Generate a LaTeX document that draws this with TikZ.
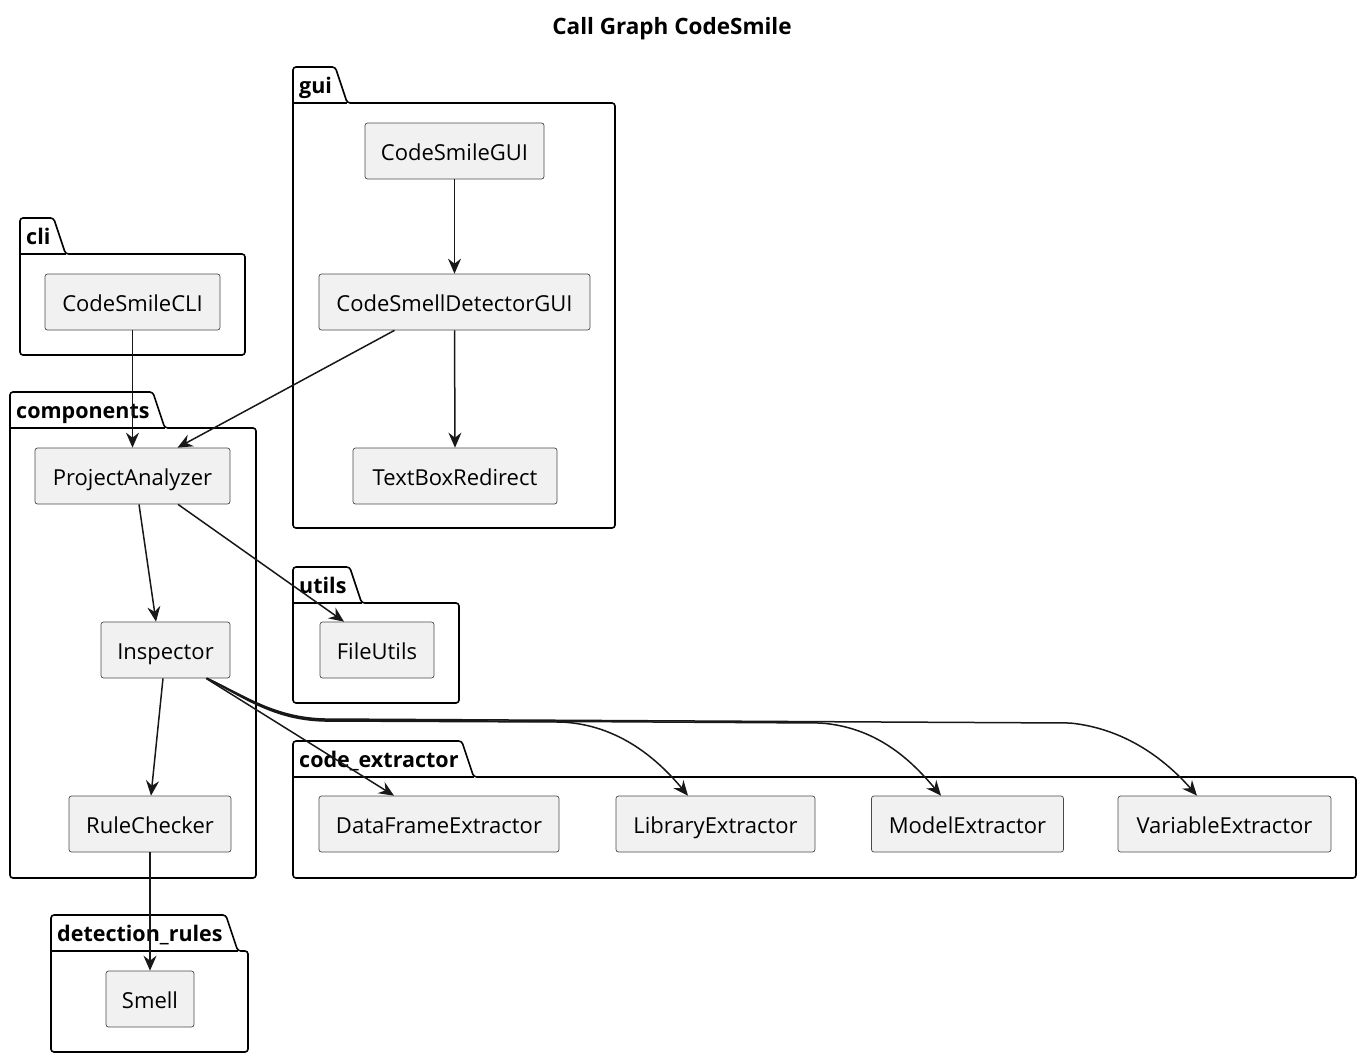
\documentclass[tikz,border=0pt]{standalone}
\usepackage{fontspec}
\setmainfont{Open Sans}
\usetikzlibrary{arrows.meta,calc}
\definecolor{boxfill}{HTML}{F1F1F1}
\definecolor{boxline}{HTML}{4A4A4A}
\definecolor{edgec}{HTML}{181818}
\newcommand\umlpkg[6]{%
  \coordinate (#6tl) at (#1,#2);
  \coordinate (#6bl) at (#1,#2+36);
  \node[pkglab] (#6lab) at (#1+6,#2+26) {#5};
  \draw[pkgline] (#1,#4) -- (#6tl) -- ([xshift=3pt]#6lab.east |- #6tl) -- ([xshift=15pt]#6lab.east |- #6bl) -- (#3,#2+36) -- (#3,#4) -- cycle;
  \draw[line width=1.6pt] (#6bl) -- ([xshift=15pt]#6lab.east |- #6bl);
}
\begin{document}
\begin{tikzpicture}[x=1pt,y=-1pt,
  cls/.style={draw=boxline, fill=boxfill, rounded corners=2.5pt, minimum height=56pt, inner sep=0pt, text height=19pt, text depth=1pt, font=\fontsize{22}{26}\selectfont, line width=0.7pt},
  pkgline/.style={line width=1.6pt, rounded corners=3pt, draw=black},
  pkglab/.style={font=\bfseries\fontsize{21.5}{26}\selectfont, inner sep=0pt, anchor=base west},
  dep/.style={draw=edgec, line width=1.5pt, -{Stealth[length=15pt,width=13pt,inset=5pt]}},
  titlestyle/.style={font=\bfseries\fontsize{22.5}{26}\selectfont, inner sep=0pt},
]
\useasboundingbox (0,0) rectangle (1365,1061);
\node[titlestyle] (title) at (672,29) {Call Graph CodeSmile};

% packages
\umlpkg{293}{67}{615}{528}{gui}{pgui}
\umlpkg{20}{218}{245}{355}{cli}{pcli}
\umlpkg{10}{392}{256}{878}{components}{pcomp}
\umlpkg{293}{567}{459}{703}{utils}{putils}
\umlpkg{293}{741}{1356}{878}{code\_extractor}{pce}
\umlpkg{51}{915}{248}{1052}{detection\_rules}{pdr}

% classes
\node[cls, minimum width=179pt] (gui) at (454.5,151) {CodeSmileGUI};
\node[cls, minimum width=271pt] (det) at (454.5,302) {CodeSmellDetectorGUI};
\node[cls, minimum width=204pt] (tbr) at (455,476) {TextBoxRedirect};
\node[cls, minimum width=175pt] (cli) at (132.5,302) {CodeSmileCLI};
\node[cls, minimum width=195pt] (pa) at (132.5,476) {ProjectAnalyzer};
\node[cls, minimum width=129pt] (insp) at (165.5,650) {Inspector};
\node[cls, minimum width=162pt] (rc) at (150,824) {RuleChecker};
\node[cls, minimum width=114pt] (fu) at (377,650) {FileUtils};
\node[cls, minimum width=240pt] (dfe) at (439,824) {DataFrameExtractor};
\node[cls, minimum width=199pt] (lib) at (715.5,824) {LibraryExtractor};
\node[cls, minimum width=192pt] (mod) at (967.5,824) {ModelExtractor};
\node[cls, minimum width=213pt] (var) at (1224.5,824) {VariableExtractor};
\node[cls, minimum width=88pt] (smell) at (150,999) {Smell};

% dependencies
\draw[dep] (gui.south) -- (det.north);
\draw[dep] (det.south) -- (tbr.north);
\draw[dep] (cli.south) -- (pa.north);
\draw[dep] ([xshift=-60pt]det.south) -- ([xshift=45pt]pa.north);
\draw[dep] ([xshift=6.5pt]pa.south) -- ([xshift=-9.5pt]insp.north);
\draw[dep] ([xshift=45.5pt]pa.south) -- ([xshift=-33pt]fu.north);
\draw[dep] ([xshift=-2.5pt]insp.south) -- ([xshift=1pt]rc.north);
\draw[dep] (rc.south) -- (smell.north);
\draw[dep] ([xshift=40.5pt]insp.south) -- ([xshift=-45pt]dfe.north);
\draw[dep] ([xshift=41.5pt]insp.south) .. controls (245,698) and (275,720) .. (325,721) -- (560,722) .. controls (620,724) and (660,762) .. ([xshift=-27.5pt]lib.north);
\draw[dep] ([xshift=41.5pt]insp.south) .. controls (245,697) and (275,719) .. (325,720) -- (820,723) .. controls (880,727) and (915,765) .. ([xshift=-26.5pt]mod.north);
\draw[dep] ([xshift=41.5pt]insp.south) .. controls (245,696) and (275,718) .. (325,719) -- (1070,723) .. controls (1130,729) and (1170,765) .. ([xshift=-27.5pt]var.north);
\end{tikzpicture}
\end{document}
